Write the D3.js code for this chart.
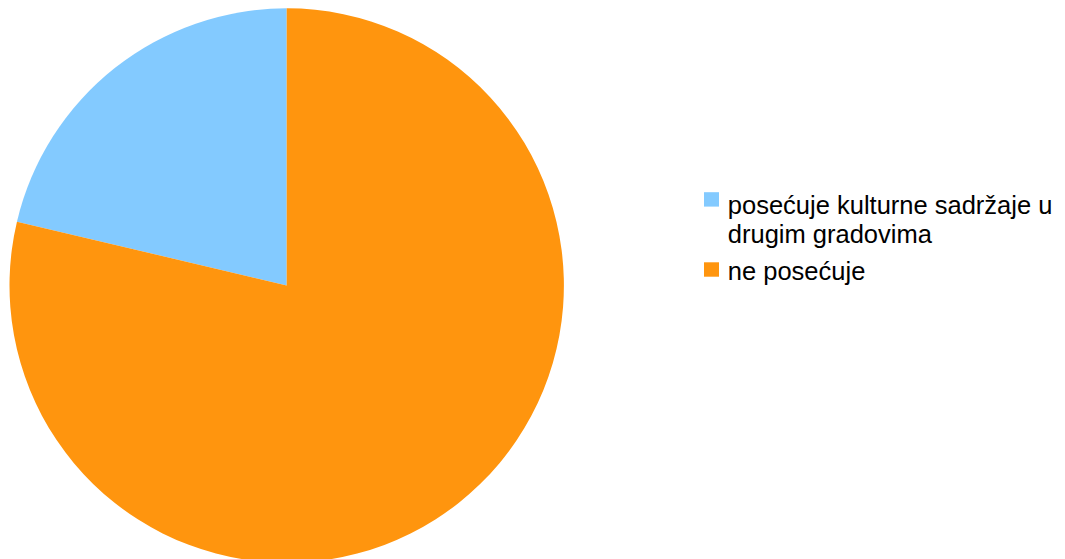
<!DOCTYPE html>
<html><head><meta charset="utf-8">
<script src="https://cdn.jsdelivr.net/npm/d3@7"></script>
<style>body{margin:0;background:#fff}svg{display:block}</style>
</head><body>
<script>
const categories = ["posećuje kulturne sadržaje u drugim gradovima", "ne posećuje"];
const legendLines = [["posećuje kulturne sadržaje u", "drugim gradovima"], ["ne posećuje"]];
const values = [21.3, 78.7];
const colors = ["#83CAFF", "#FF950E"];

const W = 1065, H = 559;
const svg = d3.select("body").append("svg").attr("width", W).attr("height", H);
const cx = 286.7, cy = 285.5, r = 277.2;

const pie = d3.pie().sort(null).value(d => d).startAngle(0).endAngle(-2 * Math.PI);
const arc = d3.arc().innerRadius(0).outerRadius(r);
const color = d3.scaleOrdinal().domain(categories).range(colors);

svg.append("g").attr("transform", `translate(${cx},${cy})`)
  .selectAll("path").data(pie(values)).join("path")
  .attr("d", arc).attr("fill", (d, i) => color(categories[i]));

const lg = svg.append("g").attr("font-family", "Liberation Sans, Arial, sans-serif").attr("font-size", 25.5).attr("fill", "#000");
const itemY = [192.2, 262.3];
const baseY = [213.5, 280];
categories.forEach((c, i) => {
  lg.append("rect").attr("x", 704).attr("y", itemY[i]).attr("width", 15).attr("height", 14.4).attr("fill", color(c));
  legendLines[i].forEach((t, j) => {
    lg.append("text").attr("x", 727.8).attr("y", baseY[i] + j * 29.5).text(t);
  });
});
</script>
</body></html>
